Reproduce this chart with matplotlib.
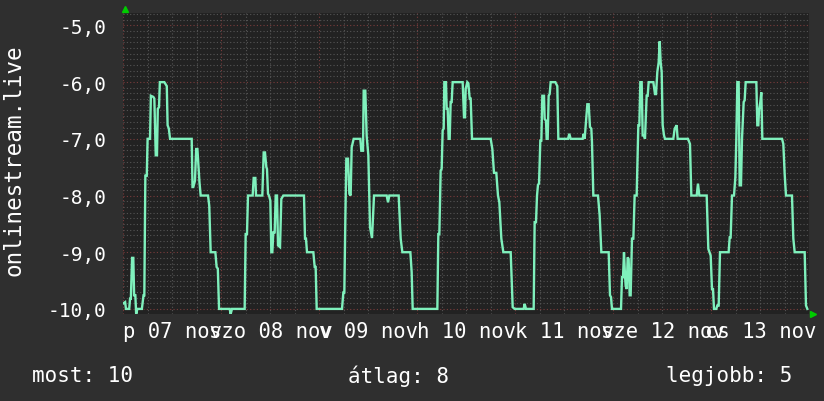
import matplotlib.pyplot as plt

# hours since the start of the week (fri 07 nov 00:00) and the measured value
hours = [
    0.0, 0.4, 0.6, 1.4, 1.6, 1.8, 2.1, 2.4, 2.6, 2.9, 3.1, 3.4, 4.5, 4.9, 5.1, 5.35, 5.7, 5.9, 6.5, 6.7,
    7.3, 7.55, 7.9, 8.2, 8.4, 8.7, 8.9, 10.0, 10.6, 10.8, 11.1, 11.4, 16.7, 16.9, 17.1, 17.5, 17.8, 18.1,
    18.6, 18.9, 20.7, 21.0, 21.35, 22.5, 22.8, 23.1, 23.4,
    26.0, 26.24, 26.57, 29.67, 29.92, 30.24, 30.49, 31.63, 31.88, 32.29, 32.45, 34.0, 34.33, 34.65,
    34.98, 35.14, 35.39, 35.63, 35.96, 36.2, 36.45, 36.69, 37.02, 37.27, 37.59, 37.84, 38.33, 38.65,
    39.14, 44.2, 44.45, 44.69, 44.94, 46.49, 46.82, 47.06, 47.31,
    53.51, 53.84, 54.08, 54.33, 54.57, 54.98, 55.31, 55.63, 55.88, 56.37, 58.0, 58.24, 58.65, 58.82,
    59.22, 59.55, 59.96, 60.37, 60.86, 61.35, 64.45, 64.78, 65.1, 67.39, 67.88, 68.29, 70.25, 70.57, 70.82,
    76.86, 77.1, 77.35, 77.67, 77.92, 78.16, 78.41, 78.57, 78.98, 79.14, 79.39, 79.63, 79.88, 80.12,
    80.37, 80.61, 83.06, 83.39, 83.63, 83.8, 84.2, 84.45, 84.78, 85.02, 85.35, 89.92, 90.33, 90.73,
    91.3, 91.71, 92.04, 92.53, 93.02, 94.82, 95.31, 95.8,
    98.0, 98.24, 98.57, 100.45, 100.69, 101.02, 101.27, 101.51, 101.76, 102.08, 102.33, 102.57, 102.98,
    103.14, 103.47, 103.63, 103.88, 104.12, 104.37, 104.61, 105.76, 106.24, 106.49, 108.86, 109.18,
    109.51, 112.45, 112.69, 112.94, 113.59, 113.92, 114.24, 114.57, 114.73, 115.06, 116.2, 116.61,
    117.02, 118.82, 119.14, 119.39, 119.63,
    121.84, 122.08, 122.33, 122.57, 122.82, 122.98, 123.22, 123.47, 123.71, 123.96, 124.2, 124.53,
    124.86, 125.18, 125.67, 126.08, 126.33, 126.57, 126.9, 127.14, 127.47, 127.71, 128.12, 128.37,
    128.61, 129.76, 130.16, 130.41, 130.73, 131.06, 131.31, 131.55, 131.8, 132.04, 132.37, 132.61,
    134.65, 134.98, 135.47, 135.71, 138.24, 138.73, 139.06, 140.37, 140.69, 141.02, 142.82, 143.22,
    143.8, 144.12, 144.37, 144.61,
    145.18, 145.43, 145.76, 146.08, 148.2, 148.45, 148.69, 149.02, 149.51, 149.84, 150.08, 150.33,
    150.65, 150.9, 151.22, 151.47, 151.88, 152.12, 152.37, 154.98, 155.22, 155.47, 155.63, 155.96,
    156.2, 156.45, 161.27, 161.59, 161.92, 162.24, 163.71, 164.04, 164.37, 166.82, 167.14, 167.47,
]
values = [
    -9.9, -9.88, -10.0, -10.0, -9.82, -9.82, -9.1, -9.1, -9.76, -9.76, -10.09, -10.0, -10.0, -9.76, -9.76,
    -7.65, -7.65, -7.0, -7.0, -6.24, -6.26, -6.29, -7.29, -7.29, -6.47, -6.44, -6.0, -6.0, -6.07, -6.76,
    -6.82, -7.0, -7.0, -7.85, -7.85, -7.74, -7.18, -7.18, -7.76, -8.0, -8.0, -8.18, -9.0, -9.0, -9.26,
    -9.29, -10.0,
    -10.0, -10.09, -10.0, -10.0, -8.68, -8.68, -8.0, -8.0, -7.69, -7.69, -8.0, -8.0, -7.24, -7.24,
    -7.5, -7.53, -7.97, -8.0, -8.09, -9.0, -9.0, -8.65, -8.65, -8.0, -8.0, -8.88, -8.91, -8.06,
    -8.0, -8.0, -8.76, -8.76, -9.0, -9.0, -9.26, -9.26, -10.0,
    -10.0, -9.71, -9.71, -8.41, -7.35, -7.35, -7.97, -8.0, -7.15, -7.0, -7.0, -7.21, -7.21, -6.15,
    -6.15, -6.95, -7.29, -8.56, -8.75, -8.0, -8.0, -8.12, -8.0, -8.0, -8.76, -9.0, -9.0, -9.35, -10.0,
    -10.0, -8.68, -8.68, -7.56, -7.53, -6.85, -6.82, -6.0, -6.0, -6.47, -6.47, -7.0, -7.0, -6.35,
    -6.35, -6.0, -6.0, -6.62, -6.62, -6.12, -6.0, -6.02, -6.29, -6.29, -7.0, -7.0, -7.18, -7.6,
    -7.6, -8.0, -8.12, -8.76, -9.0, -9.0, -9.97, -10.0,
    -10.0, -9.91, -10.0, -10.0, -8.47, -8.47, -8.0, -7.81, -7.79, -7.03, -7.03, -6.24, -6.24,
    -6.65, -6.68, -7.0, -7.0, -6.24, -6.21, -6.0, -6.0, -6.07, -7.0, -7.0, -6.91,
    -7.0, -7.0, -6.91, -7.0, -6.39, -6.39, -6.79, -6.82, -7.06, -8.0, -8.0, -8.35,
    -9.0, -9.0, -9.76, -9.79, -10.0,
    -10.0, -9.44, -9.44, -9.0, -9.41, -9.59, -9.65, -9.09, -9.12, -9.76, -9.76, -8.76,
    -8.76, -8.0, -8.0, -6.76, -6.76, -6.0, -6.0, -6.94, -6.94, -7.0, -6.24, -6.24,
    -6.0, -6.0, -6.21, -6.21, -5.82, -5.65, -5.28, -5.65, -5.82, -6.76, -6.94, -7.0,
    -7.0, -6.82, -6.76, -7.0, -7.0, -7.09, -8.0, -8.0, -7.79, -8.0, -8.0, -8.94,
    -9.06, -9.65, -9.65, -10.0,
    -10.0, -9.94, -9.94, -9.0, -9.0, -8.74, -8.74, -8.0, -8.0, -7.68, -7.0, -6.0,
    -6.0, -7.82, -7.82, -7.0, -6.35, -6.32, -6.0, -6.0, -6.76, -6.76, -6.5, -6.35,
    -6.18, -7.0, -7.0, -7.09, -7.62, -8.0, -8.0, -8.76, -9.0, -9.0, -9.94, -10.0,
]

day_labels = ['p 07 nov', 'szo 08 nov', 'v 09 nov', 'h 10 nov', 'k 11 nov', 'sze 12 nov', 'cs 13 nov']
y_ticks = [-10, -9, -8, -7, -6, -5]
y_name = 'onlinestream.live'
summary = ['most: 10', 'átlag: 8', 'legjobb: 5']

bg = '#2f2f2f'
plot_bg = '#222222'
fg = '#ffffff'
mono = 'DejaVu Sans Mono'

fig = plt.figure(figsize=(8.24, 4.02), dpi=100, facecolor=bg)
ax = fig.add_axes([123.5 / 824, 87 / 402, 686 / 824, 301 / 402])
ax.set_facecolor(plot_bg)

ax.set_xlim(0, 168)
ax.set_ylim(-10.09, -4.78)

# grid: minor gray, major red, both dotted
ax.set_xticks([d * 24 for d in range(8)])
ax.set_xticks([h for h in range(0, 169, 6) if h % 24], minor=True)
ax.set_yticks(y_ticks)
ax.set_yticks([v / 10 for v in range(-100, -47)], minor=True)
ax.grid(which='minor', color='#555555', linestyle=(0, (1, 2)), linewidth=0.8)
ax.grid(which='major', color='#7a3c3c', linestyle=(0, (1, 2)), linewidth=0.8)
ax.set_axisbelow(True)

ax.plot(hours, values, color='#7ff0bc', linewidth=1.7, solid_joinstyle='miter')

ax.tick_params(which='both', length=0)
ax.set_yticklabels([f'{v:.1f}'.replace('.', ',') for v in y_ticks],
                   fontsize=14, color=fg, family=mono)
ax.tick_params(axis='y', pad=12)
ax.set_xticklabels([])
# day labels sit at noon and are allowed to run into each other, as in the original
for i, lab in enumerate(day_labels):
    ax.annotate(lab, xy=(i * 24 + 12, 0), xycoords=('data', 'axes fraction'),
                xytext=(0, -5), textcoords='offset points', ha='center', va='top',
                fontsize=14.8, color=fg, family=mono)
for s in ax.spines.values():
    s.set_visible(False)

# green arrow heads at the axis ends
ax.plot([0.002], [1.012], marker='^', color='#00cc00', markersize=5, clip_on=False,
        transform=ax.transAxes)
ax.plot([1.005], [0.0], marker='>', color='#00cc00', markersize=5, clip_on=False,
        transform=ax.transAxes)

fig.text(14 / 824, 1 - 160 / 402, y_name, rotation=90, ha='center', va='center',
         fontsize=16.3, color=fg, family=mono)
fig.text(32 / 824, 1 - 376 / 402, summary[0], ha='left', va='center', fontsize=15, color=fg, family=mono)
fig.text(398 / 824, 1 - 376 / 402, summary[1], ha='center', va='center', fontsize=15, color=fg, family=mono)
fig.text(792 / 824, 1 - 376 / 402, summary[2], ha='right', va='center', fontsize=15, color=fg, family=mono)

fig.savefig('out.png', dpi=100, facecolor=bg)
